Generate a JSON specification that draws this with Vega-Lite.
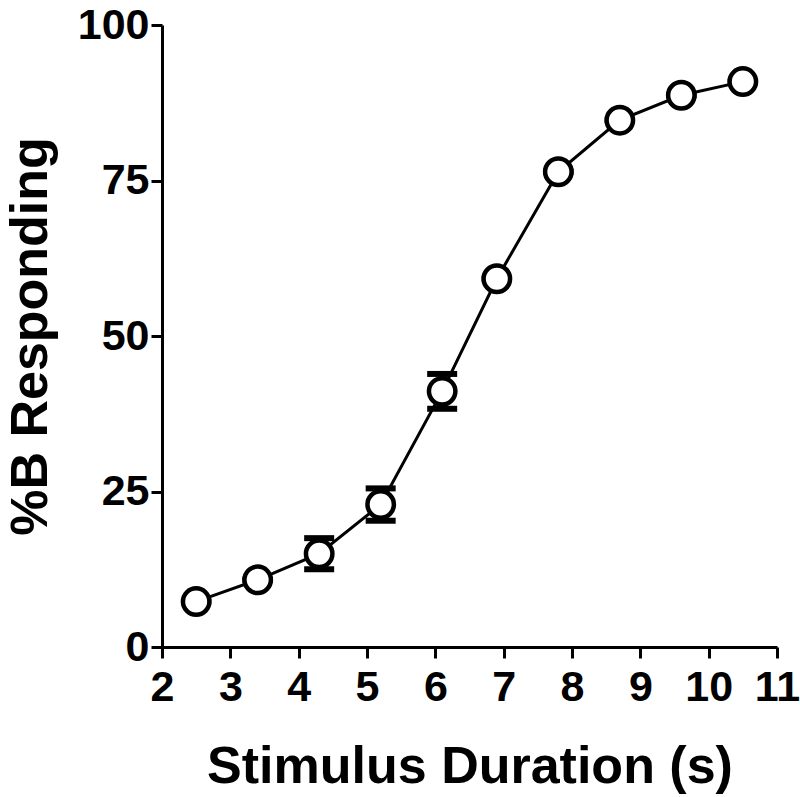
{
  "$schema": "https://vega.github.io/schema/vega-lite/v6.json",
  "width": 615,
  "height": 622,
  "autosize": {"type": "none"},
  "padding": {"left": 162, "top": 25, "right": 23, "bottom": 150},
  "background": "white",
  "config": {
    "view": {"stroke": null},
    "axis": {
      "domainColor": "black",
      "domainWidth": 3,
      "tickColor": "black",
      "tickWidth": 3,
      "tickSize": 11,
      "labelFont": "Liberation Sans",
      "labelFontWeight": "bold",
      "labelFontSize": 43,
      "labelColor": "black",
      "titleFont": "Liberation Sans",
      "titleFontWeight": "bold",
      "titleFontSize": 52,
      "titleColor": "black",
      "grid": false
    }
  },
  "data": {
    "values": [
      {"duration": 2.5, "pct": 7.3, "lo": 7.3, "hi": 7.3},
      {"duration": 3.4, "pct": 10.8, "lo": 10.8, "hi": 10.8},
      {"duration": 4.3, "pct": 15.0, "lo": 12.5, "hi": 17.5},
      {"duration": 5.2, "pct": 22.9, "lo": 20.3, "hi": 25.5},
      {"duration": 6.1, "pct": 41.1, "lo": 38.3, "hi": 43.9},
      {"duration": 6.9, "pct": 59.2, "lo": 59.2, "hi": 59.2},
      {"duration": 7.8, "pct": 76.4, "lo": 76.4, "hi": 76.4},
      {"duration": 8.7, "pct": 84.7, "lo": 84.7, "hi": 84.7},
      {"duration": 9.6, "pct": 88.7, "lo": 88.7, "hi": 88.7},
      {"duration": 10.5, "pct": 90.9, "lo": 90.9, "hi": 90.9}
    ]
  },
  "encoding": {
    "x": {
      "field": "duration",
      "type": "quantitative",
      "scale": {"domain": [2, 11], "nice": false, "zero": false},
      "axis": {"values": [2, 3, 4, 5, 6, 7, 8, 9, 10, 11], "title": "Stimulus Duration (s)", "labelPadding": 8, "titlePadding": 32, "labelFlush": false}
    }
  },
  "layer": [
    {
      "mark": {"type": "line", "color": "black", "strokeWidth": 3},
      "encoding": {
        "y": {
          "field": "pct",
          "type": "quantitative",
          "scale": {"domain": [0, 100], "nice": false},
          "axis": {"values": [0, 25, 50, 75, 100], "title": "%B Responding", "labelPadding": 2, "titlePadding": 20, "labelFlush": false}
        }
      }
    },
    {
      "mark": {"type": "rule", "color": "black", "strokeWidth": 3.5},
      "encoding": {"y": {"field": "lo", "type": "quantitative"}, "y2": {"field": "hi"}}
    },
    {
      "mark": {"type": "tick", "color": "black", "opacity": 1, "thickness": 6, "size": 30, "orient": "horizontal"},
      "encoding": {"y": {"field": "lo", "type": "quantitative"}}
    },
    {
      "mark": {"type": "tick", "color": "black", "opacity": 1, "thickness": 6, "size": 30, "orient": "horizontal"},
      "encoding": {"y": {"field": "hi", "type": "quantitative"}}
    },
    {
      "mark": {"type": "point", "shape": "circle", "filled": true, "fill": "white", "stroke": "black", "strokeWidth": 4.5, "size": 700, "opacity": 1},
      "encoding": {"y": {"field": "pct", "type": "quantitative"}}
    }
  ]
}
